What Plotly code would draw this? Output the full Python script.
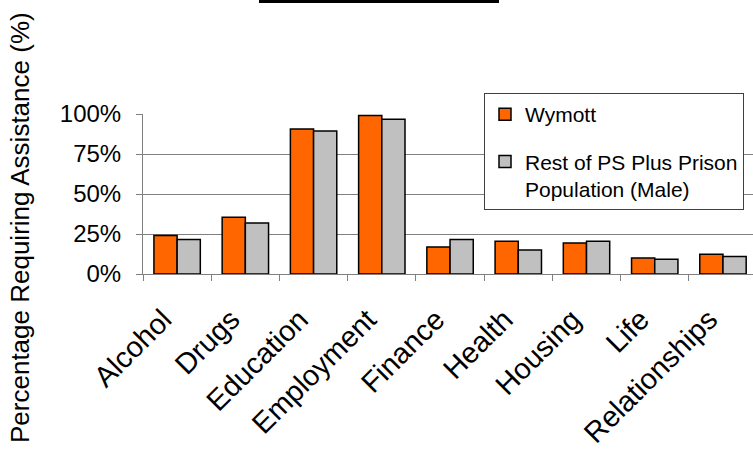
import plotly.graph_objects as go

categories = ["Alcohol", "Drugs", "Education", "Employment", "Finance",
              "Health", "Housing", "Life", "Relationships"]
wymott = [0.240, 0.354, 0.906, 0.990, 0.169, 0.204, 0.194, 0.100, 0.123]
rest_ps = [0.215, 0.319, 0.894, 0.967, 0.215, 0.150, 0.204, 0.092, 0.110]
series_names = ["Wymott", "Rest of PS Plus Prison<br>Population (Male)"]
y_ticks = [0, 0.25, 0.5, 0.75, 1.0]

FONT = "Liberation Sans, Arial, sans-serif"

fig = go.Figure()
fig.add_trace(go.Bar(x=categories, y=wymott, name=series_names[0], legendgroup="a",
                     marker=dict(color="#FF6600", line=dict(color="black", width=1.5))))
fig.add_trace(go.Bar(x=categories, y=rest_ps, name=series_names[1], legendgroup="b",
                     marker=dict(color="#C0C0C0", line=dict(color="black", width=1.5))))

W, H = 753, 459
L, R, T, B = 143, 0, 114, 185
pw = W - L - R
ph = H - T - B

def px_to_paper_x(px):
    return (px - L) / pw

def px_to_paper_y(py):
    return (H - B - py) / ph

fig.update_layout(
    width=W, height=H, autosize=False,
    margin=dict(l=L, r=R, t=T, b=B, pad=0),
    paper_bgcolor="white", plot_bgcolor="white",
    font=dict(family=FONT, color="black", size=22),
    barmode="group", bargap=0.32, bargroupgap=0,
    showlegend=True,
    legend=dict(x=px_to_paper_x(484), y=px_to_paper_y(93), xanchor="left", yanchor="top",
                bgcolor="white", bordercolor="#404040", borderwidth=1,
                font=dict(family=FONT, size=21, color="black"),
                traceorder="grouped", tracegroupgap=17, valign="top"),
    xaxis=dict(range=[-0.5, 8.44], type="category", showline=True, linecolor="#808080",
               linewidth=1, ticks="outside", tickson="boundaries", ticklen=6,
               tickcolor="#808080", showgrid=False, tickangle=-45,
               tickfont=dict(family=FONT, size=29), automargin=False,
               ticklabelstandoff=16, ticklabelshift=-14),
    yaxis=dict(range=[0, 1], tickvals=y_ticks, tickformat=".0%", showline=True,
               linecolor="#808080", linewidth=1, ticks="outside", ticklen=6,
               tickcolor="#808080", showgrid=True, gridcolor="#808080", gridwidth=1,
               zeroline=False, tickfont=dict(family=FONT, size=24), automargin=False,
               ticklabelstandoff=10),
    annotations=[dict(text="Percentage Requiring Assistance (%)", xref="paper", yref="paper",
                      x=px_to_paper_x(20), y=px_to_paper_y(228), xanchor="center",
                      yanchor="middle", textangle=-90, showarrow=False,
                      font=dict(family=FONT, size=26, color="black"))],
    shapes=[dict(type="line", xref="paper", yref="paper",
                 x0=px_to_paper_x(259), x1=px_to_paper_x(499),
                 y0=px_to_paper_y(1.5), y1=px_to_paper_y(1.5),
                 line=dict(color="black", width=3))],
)

fig.write_html("out.html", config={"displayModeBar": False},
               post_script="document.body.style.margin='0';")
